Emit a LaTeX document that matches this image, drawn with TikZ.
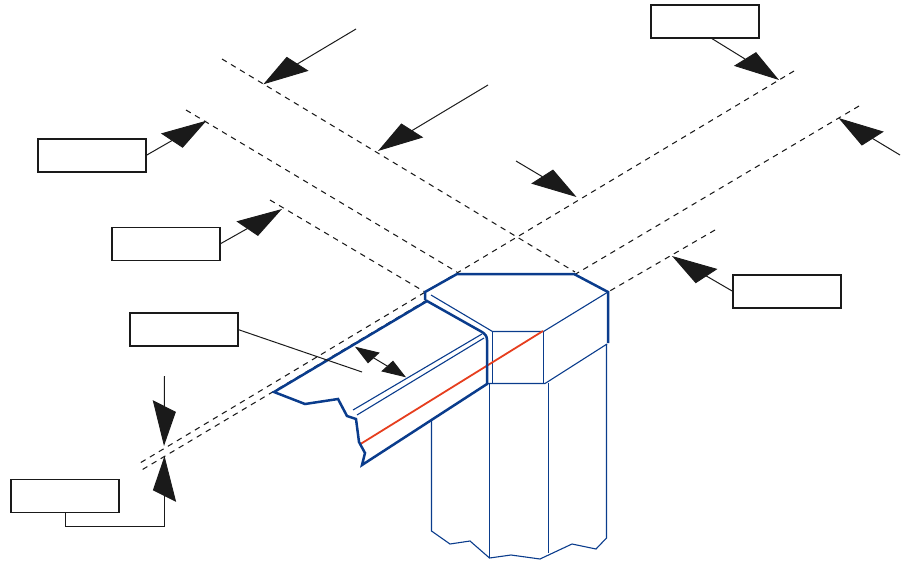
\documentclass[tikz,border=0pt]{standalone}
\usepackage{tikz}
\usetikzlibrary{arrows.meta}
\definecolor{beam_blue}{RGB}{10,60,140}
\definecolor{cut_red}{RGB}{230,62,30}
\definecolor{lead_black}{RGB}{26,26,26}

\begin{document}
\begin{tikzpicture}[x=1pt,y=-1pt,
    block_label/.style ={rectangle, draw=lead_black, line width=1.6pt, fill=white,
      minimum width=108pt, minimum height=33pt, inner sep=0pt, outer sep=0pt},
    line/.style ={draw=lead_black, line width=1pt},
    guide/.style ={draw=lead_black, line width=1.05pt, dash pattern=on 5.5pt off 5pt},
    tip_neg/.style ={-{Triangle[length=40pt,width=23pt,slant=-0.5]}},
    tip_pos/.style ={-{Triangle[length=40pt,width=23pt,slant=0.5]}},
    tip_both/.style ={{Triangle[length=22pt,width=15pt,slant=0.3]}-{Triangle[length=22pt,width=15pt,slant=0.3]}},
    thick_edge/.style ={draw=beam_blue, line width=2.5pt, line join=miter},
    thin_edge/.style ={draw=beam_blue, line width=1.1pt}]
    \useasboundingbox (0,0) rectangle (902,560);
    % label boxes
    \node [block_label] (box_top) at (705,21.5) {};
    \node [block_label] (box_one) at (92,155.5) {};
    \node [block_label] (box_two) at (166,244) {};
    \node [block_label] (box_width) at (184,329.5) {};
    \node [block_label] (box_right) at (787,291.5) {};
    \node [block_label] (box_gap) at (65,496) {};
    % free ends of the leaders
    \coordinate (tail_a) at (356,29);
    \coordinate (head_a) at (263.3,84.3);
    \coordinate (tail_b) at (488,85);
    \coordinate (head_b) at (378,151);
    \coordinate (tail_c) at (516,161);
    \coordinate (head_c) at (576.5,197);
    \coordinate (head_top) at (779,80);
    \coordinate (tail_d) at (900,155);
    \coordinate (head_d) at (838.5,118);
    \coordinate (head_right) at (672,256);
    \coordinate (head_one) at (206.5,120.7);
    \coordinate (head_two) at (282,209);
    \coordinate (end_width) at (362,372);
    \coordinate (tail_up) at (164.5,376);
    \coordinate (head_up) at (164,446);
    \coordinate (bend_gap) at (164.5,526.5);
    \coordinate (head_gap) at (164.5,456);
    \coordinate (span_a) at (355,346.7);
    \coordinate (span_b) at (406,377.3);
    % dashed guide lines
    \path [guide] (222,59) -- (575,272);
    \path [guide] (186,110) -- (457,272);
    \path [guide] (270,200) -- (425,292);
    \path [guide] (794,71) -- (140,463);
    \path [guide] (427,300) -- (140,471);
    \path [guide] (859,106) -- (574,275);
    \path [guide] (715,230) -- (608,292);
    % column, thin lines
    \draw [thin_edge] (431.5,420) -- (431.5,531) -- (450,544) -- (470,541) -- (489.5,558)
      -- (511,555) -- (540,559) -- (572,544) -- (596,549) -- (606.5,538) -- (606.5,344);
    \draw [thin_edge] (489.5,384) -- (489.5,558);
    \draw [thin_edge] (548.5,383) -- (548.5,553);
    \draw [thin_edge] (431,295) -- (492.5,331.5) -- (543.5,331.5) -- (608,292);
    \draw [thin_edge] (492.5,331.5) -- (492.5,384);
    \draw [thin_edge] (543.5,331.5) -- (543.5,383.5);
    \draw [thin_edge] (487,383.5) -- (545,383.5) -- (607,344);
    \draw [thin_edge] (353,410) -- (482,334);
    \draw [thin_edge] (357,415) -- (484,338);
    % red line
    \draw [draw=cut_red, line width=1.8pt] (360.5,444) -- (543,331);
    % thick outlines
    \draw [thick_edge] (425,300) -- (425,292) -- (457,274) -- (574,274) -- (608,292) -- (608,343);
    \draw [thick_edge] (427,301) -- (274,392) -- (305,404) -- (338,399) -- (347,416) -- (356,419)
      -- (359,442) -- (365,453) -- (362,465) -- (487,384) -- (487,340)
      .. controls (487,336) and (485,334) .. (482,332) -- cycle;
    % connecting nodes with paths
    \begin{scope}[every path/.style=line]
      \path [tip_neg] (tail_a) -- (head_a);
      \path [tip_neg] (tail_b) -- (head_b);
      \path [tip_pos] (tail_c) -- (head_c);
      \path [tip_pos] ([xshift=6pt]box_top.south) -- (head_top);
      \path [tip_pos] (tail_d) -- (head_d);
      \path [tip_pos] (box_right.west) -- (head_right);
      \path [tip_neg] (box_one.east) -- (head_one);
      \path [tip_neg] (box_two.east) -- (head_two);
      \path (box_width.east) -- (end_width);
      \path [tip_pos] (tail_up) -- (head_up);
      \path [tip_pos] (box_gap.south) |- (bend_gap) -- (head_gap);
      \path [tip_both] (span_a) -- (span_b);
    \end{scope}
\end{tikzpicture}
\end{document}
